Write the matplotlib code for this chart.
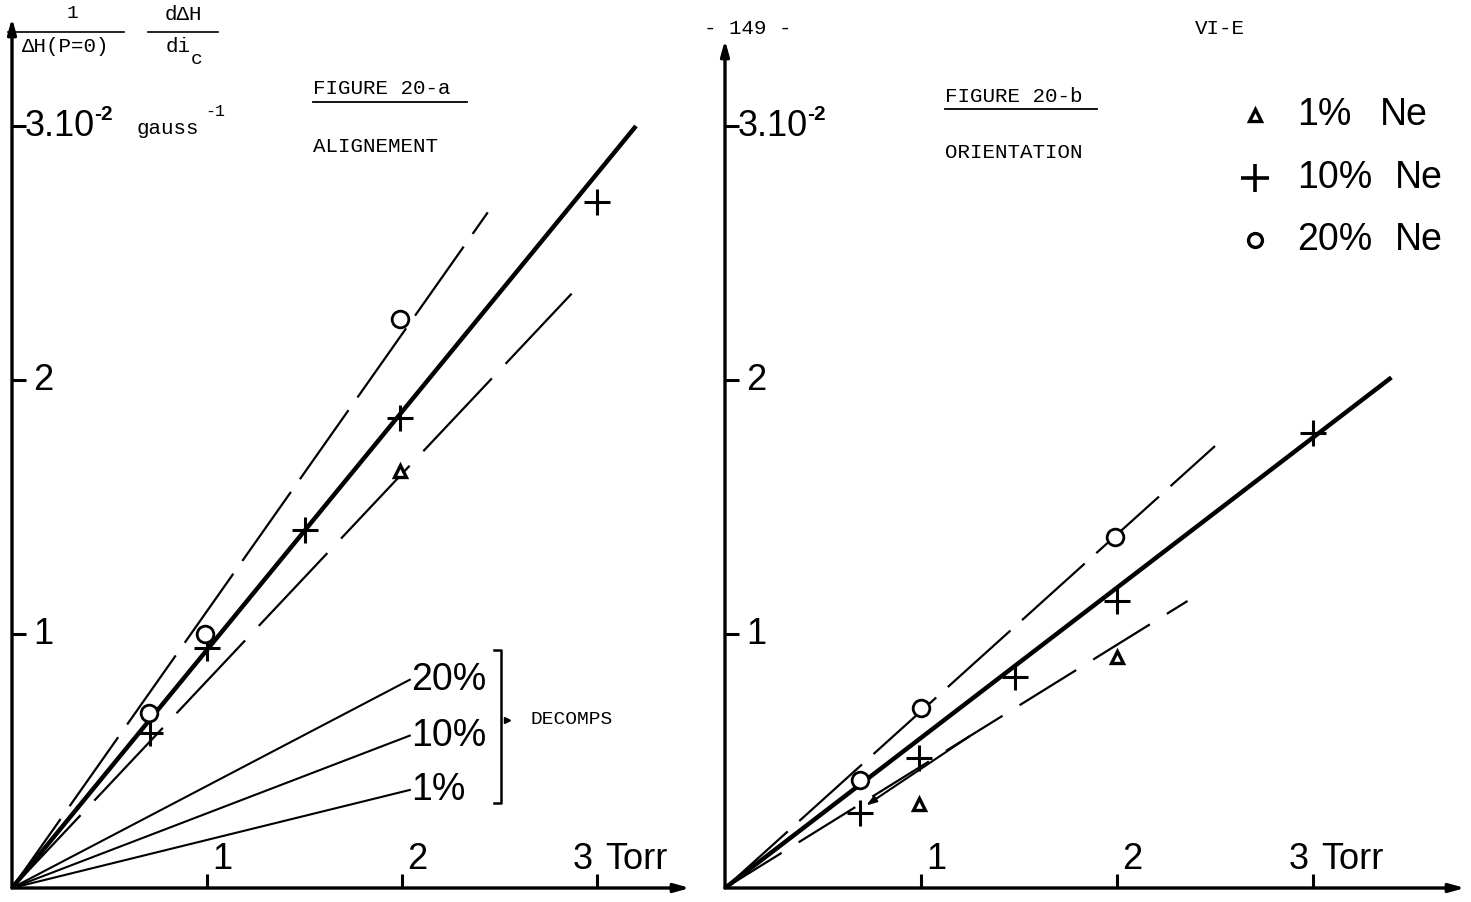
import matplotlib
matplotlib.use("Agg")
import matplotlib.pyplot as plt
from matplotlib.lines import Line2D

W, H = 1471, 902

# ---- figure 20-a (alignement) ----
a_plus_x = [0.71, 1.0, 1.5, 1.99, 3.0]
a_plus_y = [0.61, 0.945, 1.41, 1.85, 2.70]
a_circ_x = [0.70, 0.99, 1.99]
a_circ_y = [0.69, 1.0, 2.24]
a_tri_x = [1.99]
a_tri_y = [1.64]
a_fit_x = [0, 3.2]
a_fit_y = [0, 3.0]
a_up_x = [0, 2.44]
a_up_y = [0, 2.66]
a_lo_x = [0, 2.87]
a_lo_y = [0, 2.34]
decomps_x = [0, 2.04]
decomps_y = {"20%": [0, 0.82], "10%": [0, 0.60], "1%": [0, 0.386]}

# ---- figure 20-b (orientation) ----
b_plus_x = [0.69, 0.99, 1.48, 2.0, 3.0]
b_plus_y = [0.295, 0.51, 0.83, 1.13, 1.79]
b_circ_x = [0.69, 1.0, 1.99]
b_circ_y = [0.425, 0.71, 1.38]
b_tri_x = [0.99, 2.0]
b_tri_y = [0.33, 0.91]
b_fit_x = [0, 3.40]
b_fit_y = [0, 2.01]
b_up_x = [0, 2.5]
b_up_y = [0, 1.74]
b_lo_x = [0, 2.36]
b_lo_y = [0, 1.13]

ticks = [1, 2, 3]
legend_pct = ["1%", "10%", "20%"]

SANS = "Liberation Sans"
MONO = "Liberation Mono"


def fx(px):
    return px / W


def fy(py):
    return 1 - py / H


fig = plt.figure(figsize=(W / 100, H / 100), dpi=100)


def make_axes(x0, x1, ytop, xmax, ymax):
    ax = fig.add_axes([fx(x0), fy(888), (x1 - x0) / W, (888 - ytop) / H])
    ax.set_xlim(0, xmax)
    ax.set_ylim(0, ymax)
    for s in ax.spines.values():
        s.set_visible(False)
    ax.set_xticks(ticks)
    ax.set_yticks(ticks)
    ax.tick_params(direction="in", length=10, width=2.2, labelbottom=False,
                   labelleft=False)
    arr = dict(arrowstyle="-|>,head_length=0.9,head_width=0.25", lw=2.4,
               color="k", shrinkA=0, shrinkB=0)
    ax.annotate("", xy=(xmax, 0), xytext=(0, 0), arrowprops=arr,
                annotation_clip=False)
    ax.annotate("", xy=(0, ymax), xytext=(0, 0), arrowprops=arr,
                annotation_clip=False)
    # x tick labels
    for t in ticks:
        if t < 3:
            ax.annotate(str(t), (t, 0), xytext=(4, 8), textcoords="offset points",
                        ha="left", va="bottom", fontsize=26, family=SANS)
        else:
            ax.annotate(str(t), (t, 0), xytext=(-3, 8), textcoords="offset points",
                        ha="right", va="bottom", fontsize=26, family=SANS)
            ax.annotate("Torr", (t, 0), xytext=(6, 8), textcoords="offset points",
                        ha="left", va="bottom", fontsize=26, family=SANS)
    for t in ticks[:2]:
        ax.annotate(str(t), (0, t), xytext=(15, 0), textcoords="offset points",
                    ha="left", va="center", fontsize=26, family=SANS)
    ax.annotate("3.10", (0, 3), xytext=(9, 0), textcoords="offset points",
                ha="left", va="center", fontsize=26, family=SANS)
    ax.annotate("-2", (0, 3), xytext=(59, 8), textcoords="offset points",
                ha="left", va="center", fontsize=15, family=SANS,
                weight="bold")
    return ax


axL = make_axes(12, 690, 18, 678 / 195, 870 / 254)
axR = make_axes(725, 1465, 40, 740 / 196, 848 / 254)

dash = (38, 7)
# left panel lines
axL.plot(a_fit_x, a_fit_y, color="k", lw=3.2, solid_capstyle="butt")
axL.plot(a_up_x, a_up_y, color="k", lw=1.6, dashes=dash)
axL.plot(a_lo_x, a_lo_y, color="k", lw=1.6, dashes=(45, 9))
for lab, yy in decomps_y.items():
    axL.plot(decomps_x, yy, color="k", lw=1.5)
    axL.annotate(lab, (decomps_x[-1], yy[-1]), xytext=(1, 0),
                 textcoords="offset points", ha="left", va="center",
                 fontsize=27, family=SANS)

axL.plot(a_plus_x, a_plus_y, ls="none", marker="+", ms=19, mew=2.2, color="k")
axL.plot(a_circ_x, a_circ_y, ls="none", marker="o", ms=12, mew=2.0, mfc="white",
         mec="k")
axL.plot(a_tri_x, a_tri_y, ls="none", marker="^", ms=8, mew=2.4, mfc="white",
         mec="k")

# right panel lines
axR.plot(b_fit_x, b_fit_y, color="k", lw=3.2, solid_capstyle="butt")
axR.plot(b_up_x, b_up_y, color="k", lw=1.6, dashes=dash)
axR.plot(b_lo_x, b_lo_y, color="k", lw=1.6, dashes=(30, 9))
axR.annotate("", xy=(b_plus_x[0] + 0.03, b_plus_y[0] + 0.03),
             xytext=(1.25, 1.25 * b_lo_y[1] / b_lo_x[1]),
             arrowprops=dict(arrowstyle="-|>,head_length=0.6,head_width=0.2",
                             lw=1.5, color="k", shrinkA=0, shrinkB=0))
axR.plot(b_plus_x, b_plus_y, ls="none", marker="+", ms=19, mew=2.2, color="k")
axR.plot(b_circ_x, b_circ_y, ls="none", marker="o", ms=12, mew=2.0, mfc="white",
         mec="k")
axR.plot(b_tri_x, b_tri_y, ls="none", marker="^", ms=8, mew=2.4, mfc="white",
         mec="k")

# bracket for DECOMPS
br = dict(color="k", lw=1.8, transform=fig.transFigure)
fig.add_artist(Line2D([fx(494), fx(501), fx(501), fx(494)],
                      [fy(650), fy(650), fy(803), fy(803)], **br))
fig.add_artist(Line2D([fx(507)], [fy(720)], marker=">", ms=5, color="k",
                      transform=fig.transFigure))
fig.text(fx(530), fy(720), "DECOMPS", family=MONO, fontsize=14, va="center")

# axis title (fraction)
fig.text(fx(72), fy(14), "1", family=MONO, fontsize=14, ha="center", va="center")
fig.add_artist(Line2D([fx(8), fx(124)], [fy(32), fy(32)], color="k", lw=1.2,
                      transform=fig.transFigure))
fig.text(fx(66), fy(46), "\u0394H(P=0)", family=MONO, fontsize=15, ha="center",
         va="center")
fig.text(fx(183), fy(15), "d\u0394H", family=MONO, fontsize=15, ha="center",
         va="center")
fig.add_artist(Line2D([fx(148), fx(218)], [fy(32), fy(32)], color="k", lw=1.2,
                      transform=fig.transFigure))
fig.text(fx(178), fy(47), "di", family=MONO, fontsize=15, ha="center",
         va="center")
fig.text(fx(197), fy(60), "c", family=MONO, fontsize=14, ha="center",
         va="center")
fig.text(fx(137), fy(128), "gauss", family=MONO, fontsize=15, va="center")
fig.text(fx(205), fy(112), "-1", family=MONO, fontsize=12, va="center")

# figure titles
fig.text(fx(313), fy(89), "FIGURE 20-a", family=MONO, fontsize=15, va="center")
fig.add_artist(Line2D([fx(313), fx(467)], [fy(102), fy(102)], color="k", lw=1.3,
                      transform=fig.transFigure))
fig.text(fx(313), fy(146), "ALIGNEMENT", family=MONO, fontsize=15, va="center")
fig.text(fx(945), fy(96), "FIGURE 20-b", family=MONO, fontsize=15, va="center")
fig.add_artist(Line2D([fx(945), fx(1097)], [fy(109), fy(109)], color="k", lw=1.3,
                      transform=fig.transFigure))
fig.text(fx(945), fy(152), "ORIENTATION", family=MONO, fontsize=15, va="center")

# page header
fig.text(fx(748), fy(28), "- 149 -", family=MONO, fontsize=15, ha="center",
         va="center")
fig.text(fx(1220), fy(28), "VI-E", family=MONO, fontsize=15, ha="center",
         va="center")

# legend
leg_y = [115, 178, 240]
leg_m = [dict(marker="^", ms=8, mew=2.4, mfc="white", mec="k"),
         dict(marker="+", ms=20, mew=2.6, color="k"),
         dict(marker="o", ms=10, mew=2.4, mfc="white", mec="k")]
leg_ne_x = [1380, 1395, 1395]
for yy, pct, nx, m in zip(leg_y, legend_pct, leg_ne_x, leg_m):
    fig.add_artist(Line2D([fx(1255)], [fy(yy)], ls="none",
                          transform=fig.transFigure, **m))
    fig.text(fx(1297), fy(yy), pct, family=SANS, fontsize=27, va="center")
    fig.text(fx(nx), fy(yy), "Ne", family=SANS, fontsize=27, va="center")

fig.savefig("out.png", dpi=100)
